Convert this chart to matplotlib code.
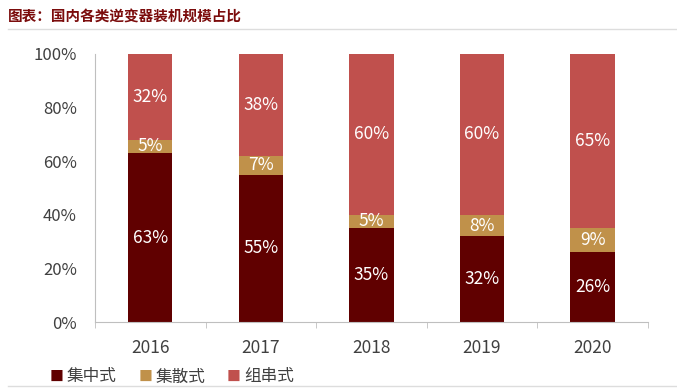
import numpy as np
import matplotlib
matplotlib.use('Agg')
from matplotlib import pyplot as plt
from matplotlib.lines import Line2D

plt.rcParams['font.family'] = ['Noto Sans CJK SC', 'DejaVu Sans']

years = ['2016', '2017', '2018', '2019', '2020']
central = [63, 55, 35, 32, 26]      # 集中式
distributed = [5, 7, 5, 8, 9]       # 集散式
string = [32, 38, 60, 60, 65]       # 组串式
series_names = ['集中式', '集散式', '组串式']
colors = ['#600000', '#C0914A', '#C0504D']

fig = plt.figure(figsize=(6.77, 3.88), dpi=100)
ax = fig.add_axes([0.1403, 0.170, 0.8167, 0.691])

x = np.arange(len(years))
bottom = np.zeros(len(years))
for vals, c in zip([central, distributed, string], colors):
    vals = np.array(vals, dtype=float)
    ax.bar(x, vals, 0.4, bottom=bottom, color=c, zorder=2)
    for xi, b, v in zip(x, bottom, vals):
        ax.text(xi, b + v / 2, f'{int(v)}%', ha='center', va='center',
                color='white', fontsize=12.5)
    bottom += vals

ax.set_xlim(-0.5, len(years) - 0.5)
ax.set_ylim(0, 100)
ax.set_yticks(np.arange(0, 101, 20))
ax.set_yticklabels([f'{v}%' for v in range(0, 101, 20)], fontsize=12, color='#404040')
ax.set_xticks(x)
ax.set_xticklabels(years, fontsize=12.5, color='#404040')
ax.set_xticks(np.arange(-0.5, len(years), 1), minor=True)
ax.tick_params(axis='x', which='major', length=0, pad=12)
ax.tick_params(axis='x', which='minor', length=4, color='#BFBFBF', direction='out')
ax.tick_params(axis='y', length=0, pad=13)
for s in ['top', 'right']:
    ax.spines[s].set_visible(False)
for s in ['left', 'bottom']:
    ax.spines[s].set_color('#BFBFBF')

# title and separators
fig.text(8 / 677, 1 - 16 / 388, '图表：国内各类逆变器装机规模占比', fontsize=10.5,
         fontweight='bold', color='#7B0C0C', va='center', ha='left')
fig.add_artist(Line2D([8 / 677, 1], [1 - 29 / 388] * 2, color='#DDDDDD', lw=1))
fig.add_artist(Line2D([8 / 677, 1], [1 - 386 / 388] * 2, color='#DDDDDD', lw=1))

# legend
lx = [50, 139, 227]
for px, name, c in zip(lx, series_names, colors):
    fig.text(px / 677, 1 - 377 / 388, '■', color=c, fontsize=10, va='center', ha='left')
    fig.text((px + 17) / 677, 1 - 377 / 388, name, color='#404040', fontsize=12,
             va='center', ha='left')

fig.savefig('out.png', dpi=100)
